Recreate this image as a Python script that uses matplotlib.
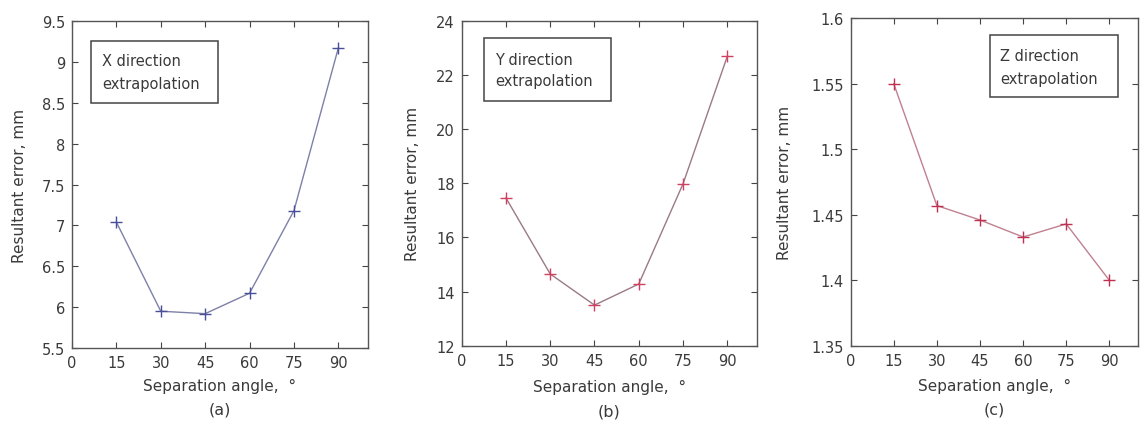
import matplotlib
matplotlib.use("Agg")
import matplotlib.pyplot as plt
from matplotlib.patches import Rectangle

plt.rcParams['font.family'] = ['DejaVu Sans']

# Separation angles (degrees) shared by all three panels
angles = [15, 30, 45, 60, 75, 90]
x_ticks = [0, 15, 30, 45, 60, 75, 90]

# Resultant error (mm) for each extrapolation direction
err_x = [7.04, 5.95, 5.92, 6.17, 7.18, 9.17]
err_y = [17.46, 14.65, 13.50, 14.28, 17.98, 22.69]
err_z = [1.550, 1.457, 1.446, 1.433, 1.443, 1.400]

y_ticks_x = [5.5, 6, 6.5, 7, 7.5, 8, 8.5, 9, 9.5]
y_ticks_y = [12, 14, 16, 18, 20, 22, 24]
y_ticks_z = [1.35, 1.4, 1.45, 1.5, 1.55, 1.6]

titles = [("X direction", "extrapolation"), ("Y direction", "extrapolation"),
          ("Z direction", "extrapolation")]
panel_tags = ["(a)", "(b)", "(c)"]

text_col = "#3a3a3a"
fig = plt.figure(figsize=(11.48, 4.35), dpi=100)

# rect: axes position; box: (x0, y0, x1, y1) of the annotation frame in axes
# coords; tx/ty: text anchor and two line centres; ylx: y-label x offset
panels = [
    dict(rect=[0.0627, 0.1977, 0.2578, 0.7517], y=err_x, yt=y_ticks_x,
         ylim=(5.5, 9.5), line="#7d80a8", mk="#4a4f9a",
         box=(0.064, 0.749, 0.493, 0.939), tx=0.101, ty=(0.878, 0.810),
         ylx=-0.176, xly=-0.116, tagy=-0.187),
    dict(rect=[0.4022, 0.2030, 0.2570, 0.7464], y=err_y, yt=y_ticks_y,
         ylim=(12, 24), line="#9a7a86", mk="#d04060",
         box=(0.0756, 0.754, 0.506, 0.948), tx=0.113, ty=(0.880, 0.818),
         ylx=-0.166, xly=-0.127, tagy=-0.200),
    dict(rect=[0.7410, 0.2030, 0.2503, 0.7526], y=err_z, yt=y_ticks_z,
         ylim=(1.35, 1.6), line="#c08090", mk="#c03050",
         box=(0.485, 0.760, 0.930, 0.949), tx=0.519, ty=(0.887, 0.815),
         ylx=-0.230, xly=-0.123, tagy=-0.193),
]

for i, p in enumerate(panels):
    ax = fig.add_axes(p["rect"])
    ax.plot(angles, p["y"], color=p["line"], lw=1.0, zorder=2)
    ax.plot(angles, p["y"], linestyle='none', marker='+', ms=9, mew=1.0,
            color=p["mk"], zorder=3)
    ax.set_xlim(0, 100)
    ax.set_ylim(*p["ylim"])
    ax.set_xticks(x_ticks)
    ax.set_xticklabels([str(v) for v in x_ticks])
    ax.set_yticks(p["yt"])
    ax.set_yticklabels([f"{v:g}" for v in p["yt"]])
    ax.tick_params(direction='in', top=True, right=True, length=4, width=0.8,
                   labelsize=10.5, colors="#444444", labelcolor=text_col, pad=5)
    for s in ax.spines.values():
        s.set_color("#555555")
        s.set_linewidth(1.0)
    ax.set_xlabel("Separation angle,  °", fontsize=11, color=text_col)
    ax.xaxis.set_label_coords(0.5, p["xly"])
    ax.xaxis.label.set_va('center')
    ax.set_ylabel("Resultant error, mm", fontsize=11, color=text_col)
    ax.yaxis.set_label_coords(p["ylx"], 0.5)
    ax.yaxis.label.set_va('center')
    x0, y0, x1, y1 = p["box"]
    ax.add_patch(Rectangle((x0, y0), x1 - x0, y1 - y0, transform=ax.transAxes,
                           fc='white', ec='#444444', lw=1.1, zorder=4))
    for line, yy in zip(titles[i], p["ty"]):
        ax.text(p["tx"], yy, line, transform=ax.transAxes, fontsize=10.5,
                color=text_col, ha='left', va='center', zorder=5)
    ax.text(0.5, p["tagy"], panel_tags[i], transform=ax.transAxes, fontsize=11.5,
            color=text_col, ha='center', va='center')

fig.savefig("out.png", dpi=100, facecolor='white')
